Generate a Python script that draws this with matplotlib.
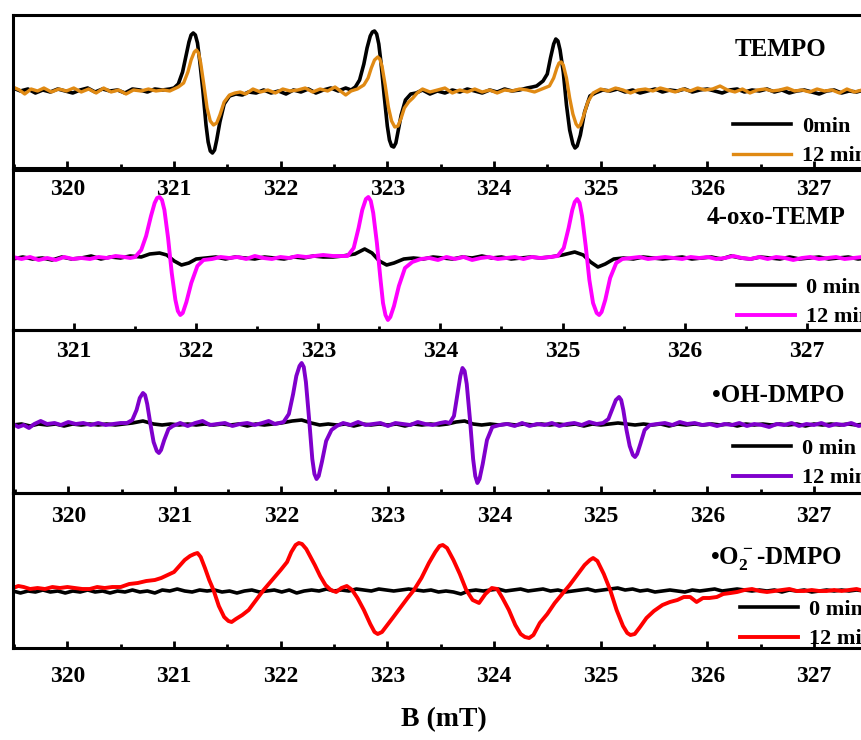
import matplotlib
matplotlib.use("Agg")
import matplotlib.pyplot as plt
from matplotlib.ticker import MultipleLocator

plt.rcParams['font.family'] = ['Liberation Serif', 'DejaVu Serif']
plt.rcParams['font.weight'] = 'bold'
plt.rcParams['mathtext.fontset'] = 'custom'
plt.rcParams['mathtext.rm'] = 'Liberation Serif:bold'
plt.rcParams['mathtext.bf'] = 'Liberation Serif:bold'
plt.rcParams['mathtext.default'] = 'bf'

# EPR spectra, (B in mT, intensity in a.u.)
tempo_0min = [
    (319.49, 2), (319.56, -1), (319.63, 1), (319.70, -3), (319.77, 0), (319.84, -2), (319.91, 1),
    (319.98, -1), (320.05, -3), (320.12, 0), (320.19, 2), (320.26, -2), (320.33, 1), (320.40, -1),
    (320.47, 0), (320.54, -3), (320.61, 1), (320.68, 0), (320.75, -2), (320.82, 1), (320.89, 0),
    (320.96, 1), (321.00, 2), (321.04, 6), (321.08, 18), (321.11, 33), (321.14, 48), (321.16, 55),
    (321.18, 57), (321.20, 55), (321.22, 47), (321.24, 30), (321.27, 0), (321.30, -35),
    (321.32, -52), (321.34, -61), (321.36, -63), (321.38, -60), (321.40, -50), (321.43, -32),
    (321.47, -14), (321.52, -6), (321.58, -4), (321.64, -5), (321.70, -2), (321.77, -3), (321.84, 0),
    (321.91, -3), (321.98, -1), (322.05, -4), (322.12, 0), (322.19, -2), (322.26, 1), (322.33, -3),
    (322.40, 0), (322.47, 2), (322.54, -1), (322.61, 2), (322.66, 0), (322.70, 3), (322.74, 10),
    (322.78, 26), (322.81, 42), (322.84, 54), (322.86, 58), (322.88, 59), (322.90, 56), (322.92, 46),
    (322.94, 28), (322.97, -5), (323.00, -36), (323.02, -50), (323.04, -56), (323.06, -57),
    (323.08, -53), (323.10, -42), (323.13, -25), (323.17, -10), (323.22, -4),
    (323.27, -3), (323.33, 0), (323.40, -4), (323.47, -1), (323.54, -3), (323.61, 0), (323.68, -2),
    (323.75, 1), (323.82, -1), (323.89, -3), (323.96, 0), (324.03, -2), (324.10, 1), (324.17, -1),
    (324.24, 0), (324.31, 2), (324.36, 3), (324.40, 4), (324.46, 9), (324.50, 16), (324.53, 32),
    (324.56, 46), (324.58, 51), (324.60, 49), (324.62, 40), (324.65, 18), (324.68, -15),
    (324.71, -40), (324.74, -54), (324.76, -58), (324.78, -56), (324.81, -45), (324.85, -22),
    (324.90, -6), (324.95, -3), (325.02, 0), (325.09, -1), (325.16, 1),
    (325.23, -2), (325.30, 0), (325.37, -3), (325.44, -1), (325.51, 1), (325.58, -2), (325.65, 0),
    (325.72, -1), (325.79, 1), (325.86, -2), (325.93, 0), (326.00, 1), (326.07, -1), (326.14, -3),
    (326.21, 0), (326.28, 1), (326.35, -2), (326.42, 0), (326.49, -1), (326.56, 1), (326.63, -2),
    (326.70, 0), (326.77, -3), (326.84, -1), (326.91, 0), (326.98, -2), (327.05, -4), (327.12, -1),
    (327.19, 0), (327.26, -3), (327.33, -1), (327.40, -2), (327.47, 0), (327.54, -2), (327.62, 0),
]
tempo_12min = [
    (319.49, 3), (319.55, 0), (319.60, -4), (319.66, 1), (319.72, -1), (319.78, 2), (319.85, -2),
    (319.92, 1), (319.99, -1), (320.06, 2), (320.13, -2), (320.20, 1), (320.27, -3), (320.34, 2),
    (320.41, -2), (320.48, 0), (320.55, -4), (320.62, 0), (320.69, -1), (320.76, 1), (320.83, -1),
    (320.90, 0), (320.96, -1), (321.00, 1), (321.04, 3), (321.09, 7), (321.13, 18), (321.16, 30),
    (321.19, 38), (321.21, 40), (321.23, 37), (321.25, 27), (321.28, 5), (321.31, -18),
    (321.34, -31), (321.37, -35), (321.40, -33), (321.43, -25), (321.47, -12), (321.52, -5),
    (321.57, -3), (321.62, -2), (321.67, -4), (321.74, 1), (321.81, -2),
    (321.88, 0), (321.95, -3), (322.02, 1), (322.09, -1), (322.16, 0), (322.23, 2), (322.30, -2),
    (322.37, 1), (322.44, -1), (322.51, 3), (322.56, -1), (322.61, -5), (322.66, -1), (322.72, 1),
    (322.78, 5), (322.82, 12), (322.85, 22), (322.88, 30), (322.91, 33), (322.93, 31), (322.95, 24),
    (322.98, 5), (323.01, -17), (323.04, -31), (323.07, -37), (323.10, -36), (323.13, -28),
    (323.16, -18), (323.20, -12), (323.24, -8), (323.28, -3),
    (323.33, 1), (323.40, -2), (323.47, 0), (323.54, 2), (323.61, -3), (323.68, 0), (323.75, -2),
    (323.82, 1), (323.89, -2), (323.96, 0), (324.03, -3), (324.10, 0), (324.17, -1), (324.24, 1),
    (324.31, 0), (324.38, -2), (324.45, 1), (324.52, 4), (324.56, 12), (324.59, 22), (324.61, 27),
    (324.63, 28), (324.65, 25), (324.68, 12), (324.71, -8), (324.74, -24), (324.77, -34),
    (324.79, -37), (324.81, -35), (324.84, -26), (324.88, -12), (324.93, -3),
    (325.00, 1), (325.07, -1), (325.14, 2), (325.21, 0), (325.28, -3), (325.35, 0),
    (325.42, 1), (325.49, -1), (325.56, 2), (325.63, 0), (325.70, -2), (325.77, 1), (325.84, -1),
    (325.91, 2), (325.98, 0), (326.05, 1), (326.12, 4), (326.19, 0), (326.26, -2), (326.33, 1),
    (326.40, -3), (326.47, 0), (326.54, 1), (326.61, -1), (326.68, 0), (326.75, 2), (326.82, -1),
    (326.89, 0), (326.96, -2), (327.03, 1), (327.10, -1), (327.17, 0), (327.24, -3), (327.31, 1),
    (327.38, -2), (327.45, 0), (327.52, -1), (327.62, 0),
]

oxo_0min = [
    (320.50, -1), (320.58, 1), (320.66, -1), (320.74, 0), (320.82, -2), (320.90, 1), (320.98, -1),
    (321.06, 0), (321.14, 2), (321.22, -1), (321.30, 1), (321.38, 0), (321.46, 2), (321.55, 1),
    (321.62, 4), (321.70, 5), (321.76, 3), (321.82, -3), (321.88, -7), (321.94, -5), (322.00, -1),
    (322.08, 0), (322.16, 1), (322.24, -1), (322.32, 1), (322.40, 0), (322.48, -1), (322.56, 1),
    (322.64, 0), (322.72, -1), (322.80, 1), (322.88, 0), (322.96, 2), (323.04, 1), (323.12, 1),
    (323.20, 2), (323.30, 4), (323.38, 9), (323.44, 5), (323.50, -3), (323.56, -7), (323.62, -5),
    (323.70, -1), (323.78, 0), (323.86, -1), (323.94, 1), (324.02, 0), (324.10, -1), (324.18, 1),
    (324.26, 0), (324.34, 2), (324.42, 0), (324.50, 1), (324.58, -1), (324.66, 0), (324.74, 1),
    (324.82, 0), (324.90, 1), (325.00, 3), (325.10, 6), (325.17, 3), (325.23, -4), (325.29, -9),
    (325.35, -6), (325.42, -1), (325.50, 0), (325.58, -1), (325.66, 1), (325.74, 0), (325.82, -1),
    (325.90, 0), (325.98, 1), (326.06, -1), (326.14, 0), (326.22, 1), (326.30, -1), (326.38, 2),
    (326.46, 0), (326.54, -1), (326.62, 1), (326.70, 0), (326.78, -1), (326.86, 1), (326.94, -1),
    (327.02, 0), (327.10, 1), (327.18, -1), (327.26, 0), (327.34, 1), (327.42, -1), (327.50, 0),
    (327.60, 1),
]
oxo_12min = [
    (320.50, 1), (320.57, -1), (320.64, 1), (320.71, -2), (320.78, 0), (320.85, -2), (320.92, 1),
    (320.99, -1), (321.06, 0), (321.13, -1), (321.20, 1), (321.27, 0), (321.34, 2), (321.41, 1),
    (321.46, 0), (321.50, 1), (321.55, 8), (321.59, 22), (321.63, 42), (321.66, 55), (321.68, 60),
    (321.70, 61), (321.72, 58), (321.74, 48), (321.77, 20), (321.80, -15), (321.83, -42),
    (321.85, -53), (321.87, -57), (321.89, -55), (321.92, -44), (321.96, -25), (322.01, -8),
    (322.06, -2), (322.13, -1), (322.20, 1), (322.27, 0), (322.34, 1), (322.41, -1),
    (322.48, 2), (322.55, 0), (322.62, -1), (322.69, 1), (322.76, 0), (322.83, 2), (322.90, 1),
    (322.97, 2), (323.04, 3), (323.12, 2), (323.20, 2), (323.24, 2), (323.29, 10), (323.33, 30),
    (323.36, 48), (323.39, 59), (323.41, 61), (323.43, 57), (323.45, 45), (323.48, 15),
    (323.51, -22), (323.53, -45), (323.55, -57), (323.57, -62), (323.59, -59), (323.62, -48),
    (323.66, -28), (323.71, -10), (323.77, -4), (323.84, -1),
    (323.91, 0), (323.98, -2), (324.05, 1), (324.12, -1), (324.19, 1), (324.26, -2), (324.33, 0),
    (324.40, 1), (324.47, -1), (324.54, 0), (324.61, 1), (324.68, -1), (324.75, 1), (324.82, 0),
    (324.90, 1), (324.96, 2), (325.01, 10), (325.05, 30), (325.08, 48), (325.10, 56), (325.12, 59),
    (325.14, 55), (325.16, 42), (325.19, 12), (325.22, -22), (325.25, -45), (325.28, -55),
    (325.30, -57), (325.32, -54), (325.35, -42), (325.39, -20), (325.44, -5), (325.49, -1),
    (325.56, 0), (325.63, 1), (325.70, -1), (325.77, 0), (325.84, 1),
    (325.91, 0), (325.98, -1), (326.05, 1), (326.12, 0), (326.19, 1), (326.26, -1), (326.33, 0),
    (326.40, 2), (326.47, 0), (326.54, -1), (326.61, 1), (326.68, -1), (326.75, 1), (326.82, 0),
    (326.89, -2), (326.96, 0), (327.03, 1), (327.10, -1), (327.17, 0), (327.24, 1), (327.31, -1),
    (327.38, 0), (327.45, 1), (327.52, 0), (327.60, -1),
]

oh_0min = [
    (319.48, -1), (319.56, 0), (319.64, -2), (319.72, 0), (319.80, -1), (319.88, 0), (319.96, -2),
    (320.04, 0), (320.12, -1), (320.20, 0), (320.28, -1), (320.36, 0), (320.44, -1), (320.52, 0),
    (320.60, 1), (320.70, 3), (320.80, 0), (320.88, -1), (320.96, 0), (321.04, -1), (321.12, 0),
    (321.20, -1), (321.28, 0), (321.36, -1), (321.44, 0), (321.52, -1), (321.60, 0), (321.68, -2),
    (321.76, 0), (321.84, -1), (321.92, 0), (322.00, 1), (322.10, 3), (322.19, 4), (322.28, 1),
    (322.36, -1), (322.44, 0), (322.52, -1), (322.60, 0), (322.68, -2), (322.76, 0), (322.84, -1),
    (322.92, 0), (323.00, -1), (323.08, 0), (323.16, -2), (323.24, 0), (323.32, -1), (323.40, 0),
    (323.48, -1), (323.56, 0), (323.64, 2), (323.72, 3), (323.80, 0), (323.88, -1), (323.96, 0),
    (324.04, -1), (324.12, 0), (324.20, -1), (324.28, 0), (324.36, -1), (324.44, 0), (324.52, -1),
    (324.60, 0), (324.68, -1), (324.76, 0), (324.84, -2), (324.92, 0), (325.00, -1), (325.08, 0),
    (325.16, 1), (325.24, 0), (325.32, -1), (325.40, 0), (325.48, -1), (325.56, 0), (325.64, -2),
    (325.72, 0), (325.80, -1), (325.88, 0), (325.96, -1), (326.04, 0), (326.12, -1), (326.20, 0),
    (326.28, -2), (326.36, 0), (326.44, -1), (326.52, 0), (326.60, -1), (326.68, 0), (326.76, -1),
    (326.84, 0), (326.92, -2), (327.00, 0), (327.08, -1), (327.16, 0), (327.24, -1), (327.32, 0),
    (327.40, -1), (327.48, 0), (327.62, -1),
]
oh_12min = [
    (319.48, 0), (319.53, -3), (319.58, -1), (319.63, -4), (319.68, 0), (319.74, 3), (319.80, 0),
    (319.87, 1), (319.93, -1), (320.00, 2), (320.07, 0), (320.14, 1), (320.21, -1), (320.28, 1),
    (320.35, -1), (320.42, 0), (320.49, 1), (320.55, 1), (320.60, 4), (320.64, 14), (320.67, 26),
    (320.70, 31), (320.72, 29), (320.74, 20), (320.77, 0), (320.80, -18), (320.83, -27),
    (320.85, -29), (320.87, -26), (320.90, -16), (320.94, -5), (320.98, -2),
    (321.05, 1), (321.12, -2), (321.19, 1), (321.26, 3), (321.33, -1), (321.40, 0),
    (321.47, 1), (321.54, -2), (321.61, 0), (321.68, 1), (321.75, -1), (321.82, 1), (321.88, 3),
    (321.94, 0), (322.02, 2), (322.07, 10), (322.11, 30), (322.14, 48), (322.17, 58), (322.19, 61),
    (322.21, 57), (322.23, 42), (322.26, 5), (322.29, -35), (322.31, -50), (322.33, -55),
    (322.35, -52), (322.38, -38), (322.42, -17), (322.47, -6), (322.52, -2),
    (322.58, 1), (322.65, -1), (322.72, 2), (322.79, -1), (322.86, 0),
    (322.93, 1), (323.00, -2), (323.07, 1), (323.14, 0), (323.21, -1), (323.28, 2), (323.35, 0),
    (323.42, -1), (323.49, 1), (323.54, 2), (323.58, 1), (323.62, 8), (323.65, 28), (323.68, 48),
    (323.70, 56), (323.72, 53), (323.74, 40), (323.77, 5), (323.80, -35), (323.82, -52),
    (323.84, -59), (323.86, -55), (323.89, -40), (323.93, -16), (323.98, -3),
    (324.05, -1), (324.12, 0), (324.19, -2), (324.26, 1), (324.33, -2), (324.40, 0),
    (324.47, -1), (324.54, 1), (324.61, -2), (324.68, 0), (324.75, 1), (324.82, -1), (324.89, 2),
    (324.96, 0), (325.02, 1), (325.07, 5), (325.11, 16), (325.14, 24), (325.17, 27), (325.19, 24),
    (325.21, 14), (325.24, -6), (325.27, -22), (325.30, -31), (325.32, -33), (325.34, -30),
    (325.37, -20), (325.41, -6), (325.46, -1), (325.53, 0),
    (325.60, 1), (325.67, -1), (325.74, 2), (325.81, 0), (325.88, 1), (325.95, -1), (326.02, 0),
    (326.09, -2), (326.16, 0), (326.23, -1), (326.30, 1), (326.37, -2), (326.44, 0), (326.51, -1),
    (326.58, -3), (326.65, 0), (326.72, -1), (326.79, 1), (326.86, -2), (326.93, 0), (327.00, -1),
    (327.07, 1), (327.14, -2), (327.21, 0), (327.28, -1), (327.35, 1), (327.42, -2), (327.50, 0),
    (327.62, -1),
]

o2_0min = [
    (319.49, -1), (319.56, -3), (319.63, -1), (319.70, -2), (319.77, 0), (319.84, -2), (319.91, -1),
    (319.98, -3), (320.05, -1), (320.12, -2), (320.19, 0), (320.26, -2), (320.33, -1), (320.40, -3),
    (320.47, -1), (320.54, -2), (320.61, 0), (320.68, -2), (320.75, -1), (320.82, -3), (320.89, 0),
    (320.96, -1), (321.03, 1), (321.10, -1), (321.17, -2), (321.24, 0), (321.31, -1), (321.38, 0),
    (321.45, -2), (321.52, -1), (321.59, -3), (321.66, -1), (321.73, 0), (321.80, -2), (321.87, -1),
    (321.94, 0), (322.01, -2), (322.08, 0), (322.15, -3), (322.22, -1), (322.29, 0), (322.36, -1),
    (322.43, 1), (322.50, -1), (322.57, 0), (322.64, -1), (322.71, 1), (322.78, 0), (322.85, -1),
    (322.92, 1), (322.99, 0), (323.06, -1), (323.13, 0), (323.20, 1), (323.27, 0), (323.34, -1),
    (323.41, 0), (323.48, -2), (323.55, -1), (323.62, -2), (323.69, -4), (323.76, -1), (323.83, 0),
    (323.90, -1), (323.97, 0), (324.04, 1), (324.11, -1), (324.18, 0), (324.25, 1), (324.32, -1),
    (324.39, 0), (324.46, 1), (324.53, -1), (324.60, 0), (324.67, -2), (324.74, -1), (324.81, 0),
    (324.88, 1), (324.95, -1), (325.02, 0), (325.09, 1), (325.16, 2), (325.23, 0), (325.30, 1),
    (325.37, -1), (325.44, 0), (325.51, -2), (325.58, -1), (325.65, 0), (325.72, -1), (325.79, -2),
    (325.86, 0), (325.93, -1), (326.00, 0), (326.07, 1), (326.14, -1), (326.21, 0), (326.28, 1),
    (326.35, 0), (326.42, -1), (326.49, 0), (326.56, -1), (326.63, 0), (326.70, -2), (326.77, 0),
    (326.84, -1), (326.91, 0), (326.98, -2), (327.05, -1), (327.12, 0), (327.19, -1), (327.26, 0),
    (327.33, -1), (327.40, 0), (327.47, -1), (327.62, 0),
]
o2_12min = [
    (319.49, 2), (319.54, 4), (319.59, 3), (319.65, 1), (319.72, 2), (319.79, 1), (319.86, 3),
    (319.93, 2), (320.00, 3), (320.07, 2), (320.14, 1), (320.21, 1), (320.28, 3), (320.35, 2),
    (320.42, 3), (320.50, 3), (320.58, 6), (320.66, 7), (320.74, 9), (320.82, 10), (320.88, 12),
    (320.94, 15), (321.00, 18), (321.05, 24), (321.10, 30), (321.15, 34), (321.19, 36),
    (321.22, 37), (321.25, 33), (321.29, 22), (321.33, 10), (321.37, 0), (321.42, -16),
    (321.47, -27), (321.51, -31), (321.54, -32), (321.58, -29), (321.64, -25), (321.70, -20),
    (321.77, -10), (321.84, 0), (321.92, 10), (322.00, 20), (322.06, 28), (322.10, 38),
    (322.14, 45), (322.17, 47), (322.20, 46), (322.24, 41), (322.28, 33), (322.32, 25),
    (322.37, 14), (322.42, 5), (322.47, 0), (322.52, -2), (322.57, 2), (322.62, 4), (322.67, 0),
    (322.72, -8), (322.78, -20), (322.84, -34), (322.88, -42), (322.91, -44), (322.95, -42),
    (323.00, -35), (323.05, -28), (323.12, -18), (323.19, -8), (323.25, 0), (323.32, 12),
    (323.39, 27), (323.45, 38), (323.49, 44), (323.52, 45), (323.56, 42), (323.62, 30),
    (323.68, 16), (323.74, 0), (323.80, -10), (323.86, -13), (323.92, -4), (323.98, 2),
    (324.03, 1), (324.08, -8), (324.14, -20), (324.20, -35), (324.25, -44), (324.29, -47),
    (324.33, -48), (324.37, -45), (324.43, -33), (324.50, -24), (324.57, -13), (324.64, -4),
    (324.71, 5), (324.78, 15), (324.85, 25), (324.90, 30), (324.93, 32), (324.97, 29),
    (325.03, 16), (325.09, 0), (325.15, -20), (325.21, -36), (325.25, -43), (325.28, -45),
    (325.32, -44), (325.37, -37), (325.43, -28), (325.50, -21), (325.58, -15),
    (325.65, -12), (325.72, -10), (325.78, -7), (325.84, -7), (325.90, -12), (325.96, -8),
    (326.02, -8), (326.09, -7), (326.15, -4), (326.22, -3), (326.28, -2), (326.35, 0),
    (326.42, 1), (326.49, -1), (326.56, -2), (326.63, -1), (326.70, 0), (326.77, 1), (326.84, -1),
    (326.91, -1), (326.98, 0), (327.05, -1), (327.12, -1), (327.19, 0), (327.26, -1), (327.33, 0),
    (327.40, 1), (327.47, -1), (327.54, -2), (327.62, -1),
]

# panel: name, spectra, color of the 12 min trace, legend labels
panels = [
    ('TEMPO', tempo_0min, tempo_12min, '#E08A14', ['0min', '12 min']),
    ('4-oxo-TEMP', oxo_0min, oxo_12min, '#FF00FF', ['0 min', '12 min']),
    ('\u2022OH-DMPO', oh_0min, oh_12min, '#7F00CC', ['0 min', '12 min']),
    ('\u2022O$_2^-$-DMPO', o2_0min, o2_12min, '#FF0000', ['0 min', '12 min']),
]

W, H = 861, 740
fig = plt.figure(figsize=(W / 100, H / 100), dpi=100)

# pixel boxes of the four panels (top, bottom), x limits and y limits
boxes = [(15, 168), (170, 330), (330, 493), (493, 648)]
xlims = [(319.49, 327.62), (320.50, 327.60), (319.48, 327.62), (319.49, 327.62)]
ylims = [(-78, 75), (-72, 88), (-69, 94), (-58, 97)]
name_pos = [(735, 50), (707, 218), (712, 395), (710, 558)]
leg_pos = [(733, 116), (737, 277), (733, 438), (740, 599)]
pads = [8, 8, 9, 13]

for i, (name, s0, s12, col, labs) in enumerate(panels):
    top, bot = boxes[i]
    ax = fig.add_axes([13 / W, 1 - bot / H, 867 / W, (bot - top) / H])
    ax.set_facecolor('none')
    b0, y0 = zip(*s0)
    b1, y1 = zip(*s12)
    l0, = ax.plot(b0, y0, color='black', lw=2.6, solid_joinstyle='round')
    l1, = ax.plot(b1, y1, color=col, lw=2.8 if i else 2.4, solid_joinstyle='round')
    ax.set_xlim(*xlims[i])
    ax.set_ylim(*ylims[i])
    ax.xaxis.set_major_locator(MultipleLocator(1))
    ax.xaxis.set_minor_locator(MultipleLocator(0.5))
    ax.tick_params(axis='x', which='major', direction='in', length=5, width=2,
                   labelsize=17, pad=pads[i], top=False)
    ax.tick_params(axis='x', which='minor', direction='in', length=3, width=2, top=False)
    ax.set_yticks([])
    for sp in ax.spines.values():
        sp.set_linewidth(2.2)
    for t in ax.get_xticklabels():
        t.set_fontweight('bold')
    fig.text(name_pos[i][0] / W, 1 - name_pos[i][1] / H, name, fontsize=18,
             fontweight='bold', ha='left', va='center')
    ax.legend([l0, l1], labs, loc='upper left',
              bbox_to_anchor=(leg_pos[i][0] / W, 1 - leg_pos[i][1] / H),
              bbox_transform=fig.transFigure, frameon=False,
              handlelength=2.6, handletextpad=0.5, labelspacing=0.42,
              borderpad=0, borderaxespad=0, prop={'weight': 'bold', 'size': 16})

fig.text(444 / W, 1 - 720 / H, 'B (mT)', fontsize=20, fontweight='bold',
         ha='center', va='center')

fig.savefig('out.png', dpi=100)
